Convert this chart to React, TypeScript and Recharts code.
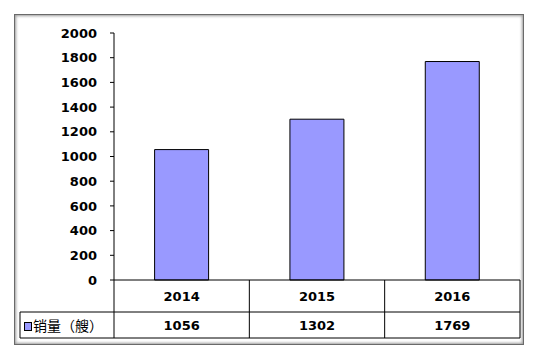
import { BarChart, Bar, XAxis, YAxis } from "recharts";

const years = ["2014", "2015", "2016"];
const sales = [1056, 1302, 1769];
const yTicks = [0, 200, 400, 600, 800, 1000, 1200, 1400, 1600, 1800, 2000];
const seriesName = "销量（艘）";

const W = 537;
const H = 360;
const PLOT_LEFT = 114;
const PLOT_RIGHT = 520;
const PLOT_TOP = 33;
const AXIS_Y = 280;
const ROW1_BOTTOM = 312;
const ROW2_BOTTOM = 338;
const TABLE_LEFT = 20;
const BAR_FILL = "#9999ff";
const FONT = "'DejaVu Sans', Tahoma, sans-serif";

const data = years.map((y, i) => ({ year: y, sales: sales[i] }));
const bandW = (PLOT_RIGHT - PLOT_LEFT) / years.length;

type TickProps = {
  x?: number;
  y?: number;
  index?: number;
  payload?: { value: string };
};

// draws the data table below the plot (category row + value row)
function TableTick({ x = 0, index = 0, payload }: TickProps) {
  const right = x + bandW / 2;
  return (
    <g>
      {index === 0 && (
        <g>
          <line x1={TABLE_LEFT} x2={PLOT_RIGHT} y1={ROW1_BOTTOM} y2={ROW1_BOTTOM} stroke="#000" />
          <line x1={TABLE_LEFT} x2={PLOT_RIGHT} y1={ROW2_BOTTOM} y2={ROW2_BOTTOM} stroke="#000" />
          <line x1={TABLE_LEFT} x2={TABLE_LEFT} y1={ROW1_BOTTOM} y2={ROW2_BOTTOM} stroke="#000" />
          <line x1={PLOT_LEFT} x2={PLOT_LEFT} y1={AXIS_Y} y2={ROW2_BOTTOM} stroke="#000" />
          <rect x={24.5} y={322.5} width={7} height={8} fill={BAR_FILL} stroke="#000" />
          <text
            x={33}
            y={(ROW1_BOTTOM + ROW2_BOTTOM) / 2}
            dominantBaseline="central"
            fontSize={14}
            fontFamily="'Noto Sans CJK SC', sans-serif"
            fill="#000"
          >
            {seriesName}
          </text>
        </g>
      )}
      <line x1={right} x2={right} y1={AXIS_Y} y2={ROW2_BOTTOM} stroke="#000" />
      <text
        x={x}
        y={(AXIS_Y + ROW1_BOTTOM) / 2}
        textAnchor="middle"
        dominantBaseline="central"
        fontSize={13}
        fontWeight="bold"
        fontFamily={FONT}
        fill="#000"
      >
        {payload?.value}
      </text>
      <text
        x={x}
        y={(ROW1_BOTTOM + ROW2_BOTTOM) / 2}
        textAnchor="middle"
        dominantBaseline="central"
        fontSize={13}
        fontWeight="bold"
        fontFamily={FONT}
        fill="#000"
      >
        {sales[index]}
      </text>
    </g>
  );
}

export default function App() {
  return (
    <div
      style={{
        position: "absolute",
        left: 0,
        top: 0,
        width: W,
        height: H,
        background: "#fff",
      }}
    >
      {/* outer frame */}
      <div
        style={{
          position: "absolute",
          left: 14,
          top: 14,
          width: 508,
          height: 329,
          border: "1px solid #6a6a6a",
          boxShadow: "inset 0 0 3px 1px #9a9a9a",
          background: "#fff",
        }}
      />
      <div style={{ position: "absolute", left: 0, top: 0 }}>
        <BarChart
          width={W}
          height={H}
          data={data}
          margin={{
            top: PLOT_TOP,
            right: W - PLOT_RIGHT,
            bottom: 0,
            left: 0,
          }}
          barCategoryGap="30%"
        >
          <XAxis
            dataKey="year"
            axisLine={{ stroke: "#000" }}
            tickLine={false}
            height={H - AXIS_Y}
            tick={<TableTick />}
            interval={0}
          />
          <YAxis
            domain={[0, 2000]}
            ticks={yTicks}
            interval={0}
            width={PLOT_LEFT}
            axisLine={{ stroke: "#000" }}
            tickLine={{ stroke: "#000" }}
            tickSize={4}
            tickMargin={13}
            tick={{
              fill: "#000",
              fontSize: 13,
              fontWeight: "bold",
              fontFamily: FONT,
            }}
          />
          <Bar
            dataKey="sales"
            fill={BAR_FILL}
            stroke="#000"
            strokeWidth={1}
            isAnimationActive={false}
          />
        </BarChart>
      </div>
    </div>
  );
}
